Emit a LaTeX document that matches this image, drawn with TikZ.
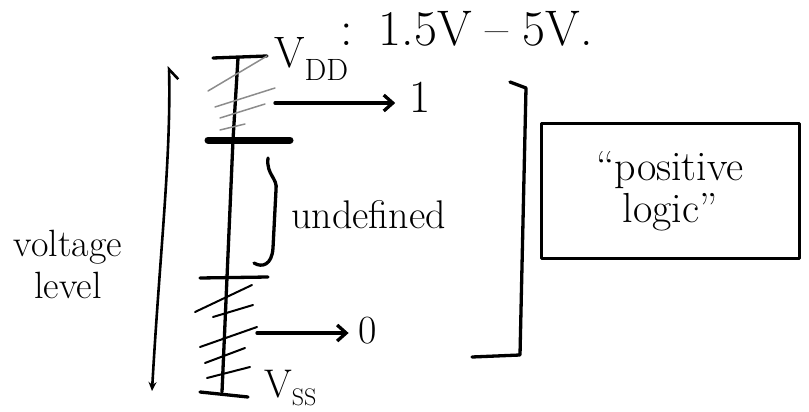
\documentclass[tikz,border=0pt]{standalone}
\usetikzlibrary{arrows.meta}
\begin{document}
\begin{tikzpicture}[x=1pt,y=-1pt, line cap=round, line join=round,
  ink/.style={line width=3.3pt},
  barthick/.style={line width=7pt},
  hatch/.style={line width=2pt},
  lighthatch/.style={line width=1.5pt, black!45},
  lbl/.style={inner sep=0pt},
  tip/.style={-{Straight Barb[length=9pt,width=16pt]}},
  ]
\useasboundingbox (0,0) rectangle (809,412);

% ---- main voltage scale ----
\coordinate (top) at (238,58);
\coordinate (mid) at (233,140);
\coordinate (bot) at (222,392);
\draw[ink] (top) -- (mid) -- (bot);

% top tick and V_DD
\coordinate (tt1) at (213,58);
\coordinate (tt2) at (267,56);
\draw[ink] (tt1) -- (tt2);
\node[lbl, anchor=base west, font=\fontsize{44}{44}\selectfont] (vdd) at (274,68) {V\textsubscript{DD}};
\node[lbl, anchor=base west, font=\fontsize{50}{50}\selectfont] (range) at (340,46) {:\hspace{26pt}1.5V\;--\;5V.};

% upper hatching (light)
\draw[lighthatch] (tt2) -- (208,91);
\draw[lighthatch] (275,88) -- (215,107);
\draw[lighthatch] (265,104) -- (220,118);
\draw[lighthatch] (245,124) -- (220,130);

% thick bar
\coordinate (tb1) at (208,140);
\coordinate (tb2) at (290,140);
\draw[barthick] (tb1) -- (tb2);

% arrow to 1
\node[lbl, font=\fontsize{46}{46}\selectfont] (one) at (420,97) {1};
\coordinate (a1) at (275,103);
\draw[ink, tip, shorten >=14pt] (a1) -- (a1 -| one.west);

% brace and undefined
\draw[ink] (268,158) .. controls (266,175) and (278,178) .. (276,190)
           -- (273,248) .. controls (272,265) and (262,268) .. (254,263);
\node[lbl, anchor=base west, font=\fontsize{40}{40}\selectfont] (undef) at (291,228) {undefined};

% lower bar
\coordinate (lb1) at (200,278);
\coordinate (lb2) at (268,277);
\draw[ink] (lb1) -- (lb2);

% lower hatching
\draw[hatch] (195,312) -- (252,285);
\draw[hatch] (213,317) -- (253,305);
\draw[hatch] (200,347) -- (257,327);
\draw[hatch] (205,363) -- (245,348);
\draw[hatch] (207,378) -- (250,367);

% bottom tick and V_SS
\coordinate (bt1) at (200,392);
\coordinate (bt2) at (248,397);
\draw[ink] (bt1) -- (bt2);
\node[lbl, anchor=base west, font=\fontsize{40}{40}\selectfont] (vss) at (264,397) {V\textsubscript{\fontsize{24}{24}\selectfont SS}};

% arrow to 0
\node[lbl, font=\fontsize{40}{40}\selectfont] (zero) at (368,331) {0};
\coordinate (a0) at (257,333);
\draw[ink, tip, shorten >=10pt] (a0) -- (a0 -| zero.west);

% voltage level arrow
\coordinate (vlow) at (152,391);
\coordinate (vhigh) at (169,66);
\draw[line width=2.6pt, {Stealth[length=9pt,width=8pt]}-{Straight Barb[length=10pt,width=18pt,right]}]
  (vlow) .. controls (160,250) and (171,160) .. (vhigh);
\node[lbl, align=center, font=\fontsize{38}{42}\selectfont] (vlabel) at (68,264) {voltage\\level};

% right bracket
\draw[ink] (510,82) -- (526,88) -- (520,355) -- (472,357);

% positive logic box
\node[draw, line width=3pt, minimum width=258pt, minimum height=135pt,
      align=center, font=\fontsize{42}{42}\selectfont] (box) at (670,191) {``positive\\logic''};
\end{tikzpicture}
\end{document}
